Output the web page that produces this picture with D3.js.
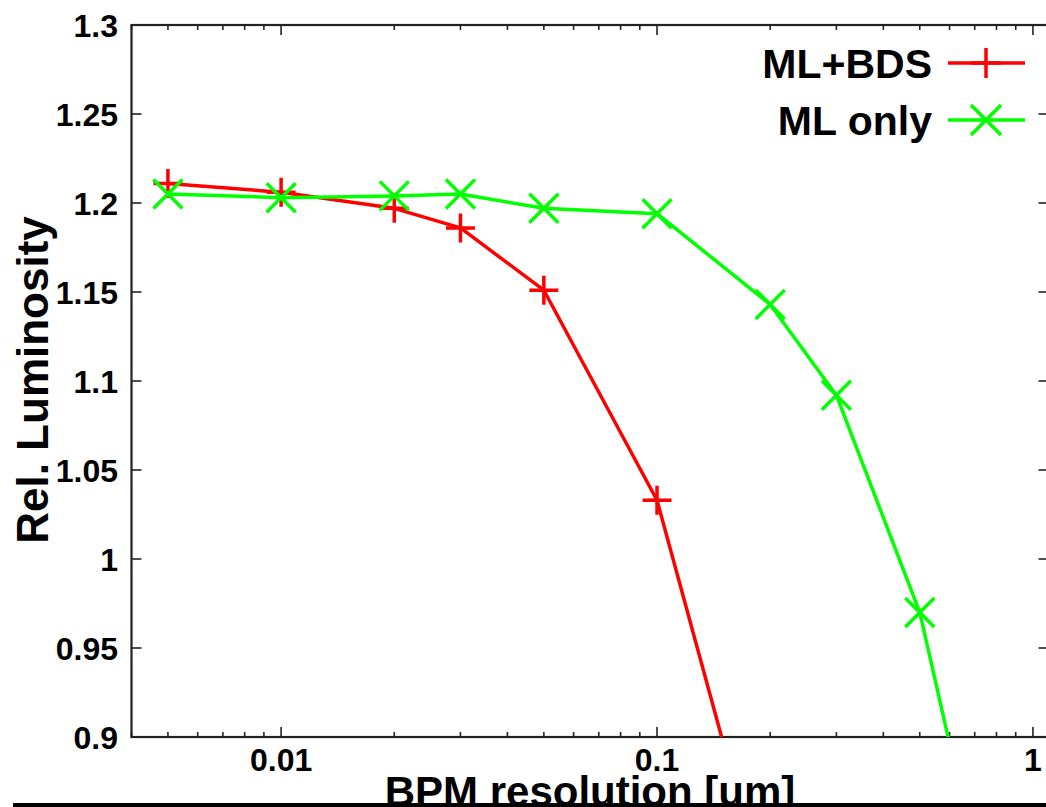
<!DOCTYPE html>
<html>
<head>
<meta charset="utf-8">
<script src="https://cdn.jsdelivr.net/npm/d3@7"></script>
<style>
  html, body { margin: 0; padding: 0; background: #fff; }
  svg { display: block; }
  text { font-family: "Liberation Sans", Arial, sans-serif; font-weight: bold; fill: #000; }
</style>
</head>
<body>
<svg width="1046" height="807"></svg>
<script>
// BPM resolution [um]
const resolution = [0.005, 0.01, 0.02, 0.03, 0.05, 0.1, 0.2];
const resolutionMlOnly = [0.005, 0.01, 0.02, 0.03, 0.05, 0.1, 0.2, 0.3, 0.5, 1.0];
// relative luminosity
const lumiMlBds = [1.211, 1.206, 1.197, 1.186, 1.151, 1.033, 0.80];
const lumiMlOnly = [1.205, 1.203, 1.204, 1.205, 1.197, 1.194, 1.143, 1.092, 0.970, 0.69];

const seriesNames = ["ML+BDS", "ML only"];
const yTicks = [0.9, 0.95, 1, 1.05, 1.1, 1.15, 1.2, 1.25, 1.3];
const xTicks = [0.01, 0.1, 1];

const svg = d3.select('svg');
const red = "#ff0000";
const green = "#00ff00";
const plotLeft = 131.5, plotTop = 25, plotBottom = 737, plotRight = 1048.5;

const xScale = d3.scaleLog()
  .domain([0.004, 1.1])
  .range([plotLeft, plotRight]);
const yScale = d3.scaleLinear()
  .domain([0.9, 1.3])
  .range([plotBottom, plotTop]);

const series = [
  { name: seriesNames[0], color: red, marker: 'plus',
    points: resolution.map((x, i) => [x, lumiMlBds[i]]) },
  { name: seriesNames[1], color: green, marker: 'cross',
    points: resolutionMlOnly.map((x, i) => [x, lumiMlOnly[i]]) }
];

// minor ticks for the log axis: 2..9 in every decade
const minorTicks = [];
[0.001, 0.01, 0.1, 1].forEach(dec => {
  for (let k = 2; k <= 9; k++) {
    const v = dec * k;
    if (v >= 0.004 && v <= 1.1) minorTicks.push(v);
  }
});

svg.append('defs').append('clipPath')
  .attr('id', 'plot-clip')
  .append('rect')
  .attr('x', plotLeft)
  .attr('y', plotTop)
  .attr('width', plotRight - plotLeft)
  .attr('height', plotBottom - plotTop);

const axisColor = "#222";

// ticks, all pointing inwards
const tickG = svg.append('g').attr('stroke', axisColor).attr('stroke-width', 1.6);

tickG.selectAll('.xmaj-b').data(xTicks).enter().append('line')
  .attr('x1', d => xScale(d)).attr('x2', d => xScale(d))
  .attr('y1', plotBottom).attr('y2', plotBottom - 10);
tickG.selectAll('.xmaj-t').data(xTicks).enter().append('line')
  .attr('x1', d => xScale(d)).attr('x2', d => xScale(d))
  .attr('y1', plotTop).attr('y2', plotTop + 10);
tickG.selectAll('.xmin-b').data(minorTicks).enter().append('line')
  .attr('x1', d => xScale(d)).attr('x2', d => xScale(d))
  .attr('y1', plotBottom).attr('y2', plotBottom - 5);
tickG.selectAll('.xmin-t').data(minorTicks).enter().append('line')
  .attr('x1', d => xScale(d)).attr('x2', d => xScale(d))
  .attr('y1', plotTop).attr('y2', plotTop + 5);
tickG.selectAll('.y-l').data(yTicks).enter().append('line')
  .attr('x1', plotLeft).attr('x2', plotLeft + 10)
  .attr('y1', d => yScale(d)).attr('y2', d => yScale(d));
tickG.selectAll('.y-r').data(yTicks).enter().append('line')
  .attr('x1', plotRight).attr('x2', plotRight - 10)
  .attr('y1', d => yScale(d)).attr('y2', d => yScale(d));

// frame
svg.append('rect')
  .attr('x', plotLeft)
  .attr('y', plotTop)
  .attr('width', plotRight - plotLeft)
  .attr('height', plotBottom - plotTop)
  .attr('fill', 'none')
  .attr('stroke', axisColor)
  .attr('stroke-width', 2.2);

// tick labels
svg.selectAll('.ylabel').data(yTicks).enter().append('text')
  .attr('x', 118)
  .attr('y', d => yScale(d))
  .attr('dy', '0.36em')
  .attr('text-anchor', 'end')
  .style('font-size', '32px')
  .text(d => d3.format('')(d));

svg.selectAll('.xlabel').data(xTicks).enter().append('text')
  .attr('x', d => xScale(d))
  .attr('y', 771)
  .attr('text-anchor', 'middle')
  .style('font-size', '32px')
  .text(d => String(d));

// axis titles
svg.append('text')
  .attr('transform', 'translate(48, 380) rotate(-90)')
  .attr('text-anchor', 'middle')
  .style('font-size', '44px')
  .text("Rel. Luminosity");

svg.append('text')
  .attr('x', 590)
  .attr('y', 806)
  .attr('text-anchor', 'middle')
  .style('font-size', '42px')
  .text("BPM resolution [um]");

// lines and markers
const line = d3.line()
  .x(d => xScale(d[0]))
  .y(d => yScale(d[1]));

const markerPath = (type, s) => type === 'plus'
  ? `M${-s},0H${s}M0,${-s}V${s}`
  : `M${-s},${-s}L${s},${s}M${-s},${s}L${s},${-s}`;

const plot = svg.append('g').attr('clip-path', 'url(#plot-clip)');

series.forEach(s => {
  plot.append('path')
    .datum(s.points)
    .attr('d', line)
    .attr('fill', 'none')
    .attr('stroke', s.color)
    .attr('stroke-width', 3.5)
    .attr('stroke-linejoin', 'round');

  plot.selectAll(null)
    .data(s.points)
    .enter()
    .append('path')
    .attr('transform', d => 'translate(' + xScale(d[0]) + ',' + yScale(d[1]) + ')')
    .attr('d', markerPath(s.marker, 14.5))
    .attr('fill', 'none')
    .attr('stroke', s.color)
    .attr('stroke-width', 3.5);
});

// legend
const legend = svg.append('g').attr('id', 'legend');
series.forEach((s, i) => {
  const ly = 63 + i * 57;
  legend.append('text')
    .attr('x', 932)
    .attr('y', ly)
    .attr('dy', '0.36em')
    .attr('text-anchor', 'end')
    .style('font-size', '41px')
    .text(s.name);
  legend.append('line')
    .attr('x1', 948).attr('x2', 1025)
    .attr('y1', ly).attr('y2', ly)
    .attr('stroke', s.color)
    .attr('stroke-width', 3.5);
  legend.append('path')
    .attr('transform', 'translate(986,' + ly + ')')
    .attr('d', markerPath(s.marker, 15))
    .attr('fill', 'none')
    .attr('stroke', s.color)
    .attr('stroke-width', 3.5);
});

// bottom rule that cuts the x title
svg.append('rect')
  .attr('x', 0).attr('y', 803)
  .attr('width', 1046).attr('height', 4)
  .attr('fill', '#fff');
svg.append('line')
  .attr('x1', 13).attr('x2', 1046)
  .attr('y1', 805).attr('y2', 805)
  .attr('stroke', '#000')
  .attr('stroke-width', 4);
</script>
</body>
</html>
